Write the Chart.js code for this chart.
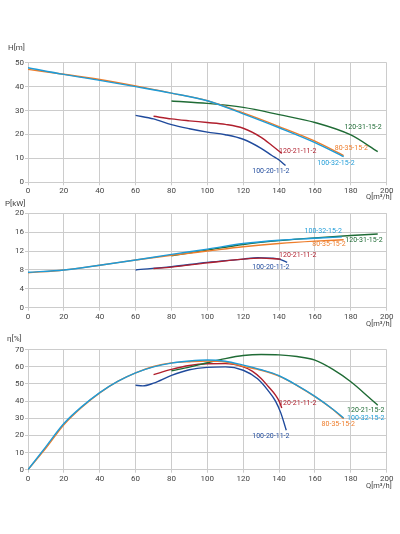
<!DOCTYPE html>
<html lang="en">
<head>
<meta charset="UTF-8">
<title>Pump curves</title>
<script src="https://cdn.jsdelivr.net/npm/chart.js@4.4.1/dist/chart.umd.min.js"></script>
<style>
  html, body { margin: 0; padding: 0; background: #fff; }
  #page { position: relative; width: 400px; height: 534px; overflow: hidden; }
  .box { position: absolute; left: 0; width: 400px; }
</style>
</head>
<body>
<div id="page">
  <div class="box" style="top:30px;height:175px"><canvas id="headChart"></canvas></div>
  <div class="box" style="top:195px;height:140px"><canvas id="powerChart"></canvas></div>
  <div class="box" style="top:330px;height:204px"><canvas id="effChart"></canvas></div>
</div>
<script>
// x axis (flow Q, m3/h)
const qTicks = [0, 20, 40, 60, 80, 100, 120, 140, 160, 180, 200];

// pump names
const names = ['100-32-15-2', '80-35-15-2', '120-31-15-2', '120-21-11-2', '100-20-11-2'];
const colors = ['#1e9bd7', '#ee7d2b', '#1f6b35', '#b01f2d', '#1f4a9c'];

// head H[m]
const hTicks = [0, 5, 10, 15, 20, 25, 30, 35, 40, 45, 50];
const qH_100_32 = [0, 20, 40, 60, 80, 100, 120, 140, 160, 176];
const H_100_32  = [47.9, 45.1, 42.6, 40.0, 37.3, 34.1, 28.6, 22.8, 16.6, 10.7];
const qH_80_35  = [0, 20, 40, 60, 80, 100, 120, 140, 160, 176];
const H_80_35   = [47.2, 45.2, 43.0, 40.3, 37.3, 34.1, 29.0, 23.3, 17.2, 11.2];
const qH_120_31 = [80, 100, 120, 140, 160, 180, 195];
const H_120_31  = [34.0, 33.0, 31.3, 28.3, 25.0, 19.8, 12.8];
const qH_120_21 = [70, 80, 90, 100, 110, 120, 130, 136, 141.5];
const H_120_21  = [27.6, 26.5, 25.7, 25.0, 24.2, 22.6, 18.8, 15.4, 12.1];
const qH_100_20 = [60, 70, 80, 90, 100, 110, 120, 130, 136, 140, 143.6];
const H_100_20  = [28.0, 26.5, 24.1, 22.4, 21.0, 19.9, 18.0, 14.2, 11.2, 9.3, 7.0];

// power P[kW]
const pTicks = [0, 4, 8, 12, 16, 20];
const qP_100_32 = [0, 20, 40, 60, 80, 100, 120, 140, 160, 175];
const P_100_32  = [7.5, 8.0, 9.0, 10.1, 11.3, 12.4, 13.6, 14.3, 14.7, 15.0];
const qP_80_35  = [0, 20, 40, 60, 80, 100, 120, 140, 160, 176];
const P_80_35   = [7.4, 8.0, 9.0, 10.1, 11.1, 12.0, 12.9, 13.6, 14.1, 14.4];
const qP_120_31 = [80, 100, 120, 140, 160, 180, 195];
const P_120_31  = [11.0, 12.2, 13.4, 14.2, 14.8, 15.3, 15.6];
const qP_120_21 = [70, 80, 100, 120, 130, 141];
const P_120_21  = [8.3, 8.6, 9.5, 10.3, 10.5, 10.3];
const qP_100_20 = [60, 80, 100, 120, 128, 136, 140, 144.5];
const P_100_20  = [8.0, 8.7, 9.6, 10.3, 10.6, 10.5, 10.3, 9.6];

// efficiency eta[%]
const eTicks = [0, 10, 20, 30, 40, 50, 60, 70];
const qE_100_32 = [0, 10, 20, 30, 40, 50, 60, 70, 80, 90, 100, 110, 120, 130, 140, 150, 160, 170, 176];
const E_100_32  = [0, 13.5, 26.9, 36.8, 45.0, 51.5, 56.5, 60.0, 62.2, 63.4, 64.0, 63.3, 61.0, 58.3, 54.8, 49.2, 42.8, 35.3, 30.2];
const qE_80_35  = [0, 10, 20, 30, 40, 50, 60, 70, 80, 90, 100, 110, 120, 130, 140, 150, 160, 170, 176];
const E_80_35   = [0, 12.6, 26.2, 36.4, 44.8, 51.5, 56.5, 60.2, 62.3, 63.0, 63.4, 62.8, 60.3, 58.0, 54.6, 49.1, 42.6, 35.1, 29.7];
const qE_120_21_15 = [80, 90, 100, 110, 120, 130, 140, 150, 160, 170, 180, 190, 195];
const E_120_21_15  = [57.7, 59.8, 62.4, 64.8, 66.6, 67.2, 67.0, 66.0, 63.9, 58.5, 51.3, 42.3, 37.6];
const qE_120_21 = [70, 80, 90, 100, 110, 120, 125, 130, 134, 138, 140, 141.5];
const E_120_21  = [55.5, 58.5, 60.8, 61.8, 61.9, 60.0, 57.5, 53.2, 48.5, 43.5, 40.0, 36.0];
const qE_100_20 = [60, 64, 70, 80, 90, 100, 110, 120, 128, 134, 138, 141, 144];
const E_100_20  = [49.3, 48.9, 50.5, 55.0, 58.3, 59.7, 60.0, 58.0, 53.0, 46.0, 40.0, 33.0, 23.0];

function pairs(qs, vs) {
    return qs.map((q, i) => ({ x: q, y: vs[i] }));
}

function makeSet(label, color, qs, vs) {
    return {
        label: label,
        data: pairs(qs, vs),
        borderColor: color,
        backgroundColor: color,
        borderWidth: 1.4,
        pointRadius: 0,
        fill: false,
        cubicInterpolationMode: 'monotone',
        tension: 0.4
    };
}

// text on the curves, title and x unit
const curveText = {
    id: 'curveText',
    afterDraw(chart, args, opts) {
        const ctx = chart.ctx;
        const xs = chart.scales.x;
        const ys = chart.scales.y;
        const area = chart.chartArea;
        ctx.save();
        ctx.textBaseline = 'middle';
        ctx.font = '7px Roboto, sans-serif';
        ctx.textAlign = 'center';
        opts.labels.forEach(l => {
            ctx.fillStyle = l.color;
            ctx.fillText(l.text, xs.getPixelForValue(l.x), ys.getPixelForValue(l.y));
        });
        ctx.fillStyle = '#444';
        ctx.font = '8px Roboto, sans-serif';
        ctx.textAlign = 'left';
        ctx.fillText(opts.title, opts.titleX, area.top - opts.titleDy);
        ctx.font = '7.5px Roboto, sans-serif';
        ctx.textAlign = 'right';
        ctx.fillText('Q[m\u00B3/h]', area.right + 5, area.bottom + opts.unitDy);
        ctx.restore();
    }
};

function makeChart(id, sets, yTicks, yMax, padTop, xHeight, textOpts) {
    return new Chart(document.getElementById(id), {
        type: 'line',
        data: { datasets: sets },
        options: {
            responsive: true,
            maintainAspectRatio: false,
            animation: false,
            layout: { padding: { top: padTop, right: 13.3, left: 0, bottom: 0 } },
            plugins: {
                legend: { display: false },
                tooltip: { enabled: false },
                curveText: textOpts
            },
            scales: {
                x: {
                    type: 'linear',
                    min: 0,
                    max: 200,
                    afterBuildTicks: s => { s.ticks = qTicks.map(v => ({ value: v })); },
                    afterFit: s => { s.height = xHeight; },
                    grid: { color: '#cccccc', tickLength: 3 },
                    border: { color: '#cccccc' },
                    ticks: { color: '#444', padding: 1, font: { family: 'Roboto', size: 8 } }
                },
                y: {
                    min: 0,
                    max: yMax,
                    afterBuildTicks: s => { s.ticks = yTicks.map(v => ({ value: v })); },
                    afterFit: s => { s.width = 28; },
                    grid: { color: '#cccccc', tickLength: 3 },
                    border: { color: '#cccccc' },
                    ticks: { color: '#444', padding: 1, font: { family: 'Roboto', size: 8 } }
                }
            }
        },
        plugins: [curveText]
    });
}

makeChart('headChart', [
    makeSet(names[0], colors[0], qH_100_32, H_100_32),
    makeSet(names[1], colors[1], qH_80_35, H_80_35),
    makeSet(names[2], colors[2], qH_120_31, H_120_31),
    makeSet(names[3], colors[3], qH_120_21, H_120_21),
    makeSet(names[4], colors[4], qH_100_20, H_100_20)
], hTicks, 50, 32.7, 22.7, {
    title: 'H[m]', titleX: 8, titleDy: 14.7, unitDy: 14.4,
    labels: [
        { text: '120-31-15-2', color: colors[2], x: 186.8, y: 23.0 },
        { text: '80-35-15-2', color: colors[1], x: 180.3, y: 14.2 },
        { text: '100-32-15-2', color: colors[0], x: 171.7, y: 8.1 },
        { text: '120-21-11-2', color: colors[3], x: 150.4, y: 13.0 },
        { text: '100-20-11-2', color: colors[4], x: 135.4, y: 4.7 }
    ]
});

makeChart('powerChart', [
    makeSet(names[0], colors[0], qP_100_32, P_100_32),
    makeSet(names[1], colors[1], qP_80_35, P_80_35),
    makeSet(names[2], colors[2], qP_120_31, P_120_31),
    makeSet(names[3], colors[3], qP_120_21, P_120_21),
    makeSet(names[4], colors[4], qP_100_20, P_100_20)
], pTicks, 20, 18.3, 27.3, {
    title: 'P[kW]', titleX: 5, titleDy: 9.3, unitDy: 16.3,
    labels: [
        { text: '100-32-15-2', color: colors[0], x: 164.6, y: 16.2 },
        { text: '120-31-15-2', color: colors[2], x: 187.3, y: 14.3 },
        { text: '80-35-15-2', color: colors[1], x: 167.8, y: 13.4 },
        { text: '120-21-11-2', color: colors[3], x: 150.4, y: 11.1 },
        { text: '100-20-11-2', color: colors[4], x: 135.4, y: 8.55 }
    ]
});

makeChart('effChart', [
    makeSet(names[0], colors[0], qE_100_32, E_100_32),
    makeSet(names[1], colors[1], qE_80_35, E_80_35),
    makeSet('120-21-15-2', colors[2], qE_120_21_15, E_120_21_15),
    makeSet(names[3], colors[3], qE_120_21, E_120_21),
    makeSet(names[4], colors[4], qE_100_20, E_100_20)
], eTicks, 70, 19.7, 64.3, {
    title: '\u03B7[%]', titleX: 7, titleDy: 10.4, unitDy: 16,
    labels: [
        { text: '120-21-11-2', color: colors[3], x: 150.4, y: 38.6 },
        { text: '120-21-15-2', color: colors[2], x: 188.3, y: 34.9 },
        { text: '100-32-15-2', color: colors[0], x: 188.3, y: 29.9 },
        { text: '80-35-15-2', color: colors[1], x: 173.0, y: 26.4 },
        { text: '100-20-11-2', color: colors[4], x: 135.4, y: 19.8 }
    ]
});
</script>
</body>
</html>
